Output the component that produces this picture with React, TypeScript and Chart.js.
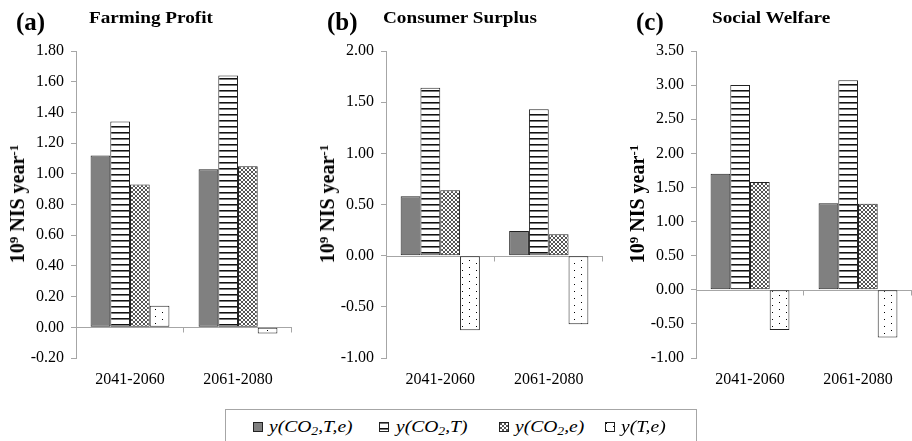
import React, { useEffect, useRef } from 'react';
import { Chart, registerables } from 'chart.js';

Chart.register(...registerables);

// ---------- data ----------
const periods = ['2041-2060', '2061-2080'];
const seriesNames = ['y(CO2,T,e)', 'y(CO2,T)', 'y(CO2,e)', 'y(T,e)'];

const farmingCO2Te = [1.12, 1.03];
const farmingCO2T = [1.34, 1.64];
const farmingCO2e = [0.93, 1.05];
const farmingTe = [0.14, -0.04];

const consumerCO2Te = [0.58, 0.24];
const consumerCO2T = [1.64, 1.43];
const consumerCO2e = [0.64, 0.21];
const consumerTe = [-0.73, -0.67];

const welfareCO2Te = [1.7, 1.27];
const welfareCO2T = [3.0, 3.07];
const welfareCO2e = [1.58, 1.26];
const welfareTe = [-0.59, -0.7];

// y axis: [min, max, step]
const farmingAxis = [-0.2, 1.8, 0.2];
const consumerAxis = [-1.0, 2.0, 0.5];
const welfareAxis = [-1.0, 3.5, 0.5];

// ---------- styles ----------
const AXIS = '#a6a6a6';
const FONT = 'Liberation Serif, Times New Roman, serif';
const kinds = ['solid', 'hstripe', 'cross', 'dots'];

function makeTile(kind: string): HTMLCanvasElement {
  const c = document.createElement('canvas');
  const g = c.getContext('2d')!;
  if (kind === 'hstripe') {
    c.width = 6; c.height = 6;
    g.fillStyle = '#fff'; g.fillRect(0, 0, 6, 6);
    g.fillStyle = '#111'; g.fillRect(0, 0, 6, 1);
    g.fillStyle = '#777'; g.fillRect(0, 1, 6, 1);
  } else if (kind === 'cross') {
    c.width = 4; c.height = 4;
    g.fillStyle = '#fff'; g.fillRect(0, 0, 4, 4);
    g.fillStyle = '#555';
    for (let i = 0; i < 4; i++) {
      g.fillRect(i, i, 1, 1);
      g.fillRect(3 - i, i, 1, 1);
    }
  } else if (kind === 'dots') {
    c.width = 14; c.height = 7;
    g.fillStyle = '#fff'; g.fillRect(0, 0, 14, 7);
    g.fillStyle = '#000';
    g.fillRect(1, 1, 1, 1);
    g.fillRect(8, 4, 1, 1);
  } else {
    c.width = 1; c.height = 1;
    g.fillStyle = '#808080'; g.fillRect(0, 0, 1, 1);
  }
  return c;
}

function fillFor(ctx: CanvasRenderingContext2D, kind: string): any {
  if (kind === 'solid') return '#808080';
  return ctx.createPattern(makeTile(kind), 'repeat');
}

const zeroLine = {
  id: 'zeroLine',
  beforeDatasetsDraw(chart: any) {
    const { ctx, chartArea, scales } = chart;
    const y0 = Math.round(scales.y.getPixelForValue(0)) + 0.5;
    const xs = scales.x;
    const w = xs.width / periods.length;
    ctx.save();
    ctx.strokeStyle = AXIS;
    ctx.lineWidth = 1;
    ctx.beginPath();
    ctx.moveTo(chartArea.left, y0);
    ctx.lineTo(chartArea.right, y0);
    for (let i = 0; i < periods.length; i++) {
      const xb = Math.round(xs.getPixelForValue(i) + w / 2) - 0.5;
      ctx.moveTo(xb, y0);
      ctx.lineTo(xb, y0 + 5);
    }
    ctx.stroke();
    ctx.restore();
  },
};

type PanelProps = {
  left: number;
  width: number;
  yWidth: number;
  padRight: number;
  series: number[][];
  axis: number[];
};

function Panel({ left, width, yWidth, padRight, series, axis }: PanelProps) {
  const ref = useRef<HTMLCanvasElement>(null);
  useEffect(() => {
    const canvas = ref.current!;
    const ctx = canvas.getContext('2d')!;
    const font = { family: FONT, size: 16 };
    const chart = new Chart(canvas, {
      type: 'bar',
      data: {
        labels: periods,
        datasets: series.map((vals, i) => ({
          label: seriesNames[i],
          data: vals,
          backgroundColor: fillFor(ctx, kinds[i]),
          borderColor: '#222',
          borderWidth: 1,
          borderSkipped: false,
          categoryPercentage: 0.73,
          barPercentage: 1,
        })),
      },
      plugins: [zeroLine],
      options: {
        responsive: false,
        animation: false,
        events: [],
        layout: { padding: { top: 51, left: 0, right: padRight, bottom: 0 } },
        plugins: {
          legend: { display: false },
          tooltip: { enabled: false },
          title: { display: false },
        },
        scales: {
          x: {
            grid: { display: false, drawTicks: false },
            border: { display: false },
            ticks: { font, color: '#000', padding: 12 },
            afterFit: (s: any) => { s.height = 42; },
          },
          y: {
            min: axis[0],
            max: axis[1],
            ticks: {
              stepSize: axis[2],
              font,
              color: '#000',
              padding: 7,
              callback: (v: any) => Number(v).toFixed(2),
            },
            grid: { drawOnChartArea: false, tickLength: 5, color: AXIS },
            border: { color: AXIS },
            afterFit: (s: any) => { s.width = yWidth; },
          },
        },
      } as any,
    });
    return () => chart.destroy();
  }, []);
  return (
    <canvas
      ref={ref}
      width={width}
      height={400}
      style={{ position: 'absolute', left, top: 0, width, height: 400 }}
    />
  );
}

function LegendIcon({ kind }: { kind: string }) {
  const ref = useRef<HTMLCanvasElement>(null);
  useEffect(() => {
    const c = ref.current!;
    const g = c.getContext('2d')!;
    g.clearRect(0, 0, 10, 10);
    g.fillStyle = fillFor(g, kind);
    g.fillRect(0, 0, 10, 10);
    g.strokeStyle = '#222';
    g.lineWidth = 1;
    g.strokeRect(0.5, 0.5, 9, 9);
  }, []);
  return <canvas ref={ref} width={10} height={10} style={{ width: 10, height: 10, display: 'block' }} />;
}

function LegendText({ idx }: { idx: number }) {
  const sub = <sub style={{ fontSize: '0.7em', verticalAlign: '-0.25em' }}>2</sub>;
  if (idx === 0) return <span>y(CO{sub},T,e)</span>;
  if (idx === 1) return <span>y(CO{sub},T)</span>;
  if (idx === 2) return <span>y(CO{sub},e)</span>;
  return <span>y(T,e)</span>;
}

const legendIconX = [253, 379, 499, 605];
const legendTextX = [269, 396, 515, 621];

function YTitle({ cx }: { cx: number }) {
  return (
    <div
      style={{
        position: 'absolute',
        left: cx,
        top: 204,
        transform: 'translate(-50%, -50%) rotate(-90deg)',
        whiteSpace: 'nowrap',
        fontFamily: FONT,
        fontWeight: 'bold',
        fontSize: 20,
        lineHeight: '20px',
        color: '#000',
      }}
    >
      10<sup style={{ fontSize: '0.65em', verticalAlign: '0.45em', lineHeight: 0 }}>9</sup> NIS year
      <sup style={{ fontSize: '0.65em', verticalAlign: '0.45em', lineHeight: 0 }}>-1</sup>
    </div>
  );
}

function Heading({ x, text, size, top, sx }: { x: number; text: string; size: number; top: number; sx: number }) {
  return (
    <div
      style={{
        position: 'absolute',
        left: x,
        top,
        fontFamily: FONT,
        fontWeight: 'bold',
        fontSize: size,
        lineHeight: `${size}px`,
        whiteSpace: 'nowrap',
        color: '#000',
        transform: `scaleX(${sx})`,
        transformOrigin: 'left center',
      }}
    >
      {text}
    </div>
  );
}

export default function App() {
  return (
    <div
      style={{
        position: 'absolute',
        left: 0,
        top: 0,
        width: 912,
        height: 441,
        overflow: 'hidden',
        background: '#fff',
      }}
    >
      <Panel left={0} width={300} yWidth={76} padRight={8}
        series={[farmingCO2Te, farmingCO2T, farmingCO2e, farmingTe]} axis={farmingAxis} />
      <Panel left={300} width={310} yWidth={86} padRight={7}
        series={[consumerCO2Te, consumerCO2T, consumerCO2e, consumerTe]} axis={consumerAxis} />
      <Panel left={610} width={302} yWidth={86} padRight={0}
        series={[welfareCO2Te, welfareCO2T, welfareCO2e, welfareTe]} axis={welfareAxis} />

      <Heading x={16} top={9} size={25} sx={1} text="(a)" />
      <Heading x={89} top={9} size={17} sx={1.13} text="Farming Profit" />
      <Heading x={327} top={9} size={25} sx={1} text="(b)" />
      <Heading x={383} top={9} size={17} sx={1.13} text="Consumer Surplus" />
      <Heading x={636} top={9} size={25} sx={1} text="(c)" />
      <Heading x={712} top={9} size={17} sx={1.13} text="Social Welfare" />

      <YTitle cx={17} />
      <YTitle cx={327} />
      <YTitle cx={637} />

      <div
        style={{
          position: 'absolute',
          left: 225,
          top: 409,
          width: 472,
          height: 40,
          border: `1px solid ${AXIS}`,
          boxSizing: 'border-box',
        }}
      />
      {kinds.map((k, i) => (
        <div key={'i' + i} style={{ position: 'absolute', left: legendIconX[i], top: 422 }}>
          <LegendIcon kind={k} />
        </div>
      ))}
      {kinds.map((k, i) => (
        <div
          key={'t' + i}
          style={{
            position: 'absolute',
            left: legendTextX[i],
            top: 418,
            fontFamily: FONT,
            fontStyle: 'italic',
            fontSize: 17,
            lineHeight: '17px',
            whiteSpace: 'nowrap',
            color: '#000',
            transform: 'scaleX(1.15)',
            transformOrigin: 'left center',
          }}
        >
          <LegendText idx={i} />
        </div>
      ))}
    </div>
  );
}
